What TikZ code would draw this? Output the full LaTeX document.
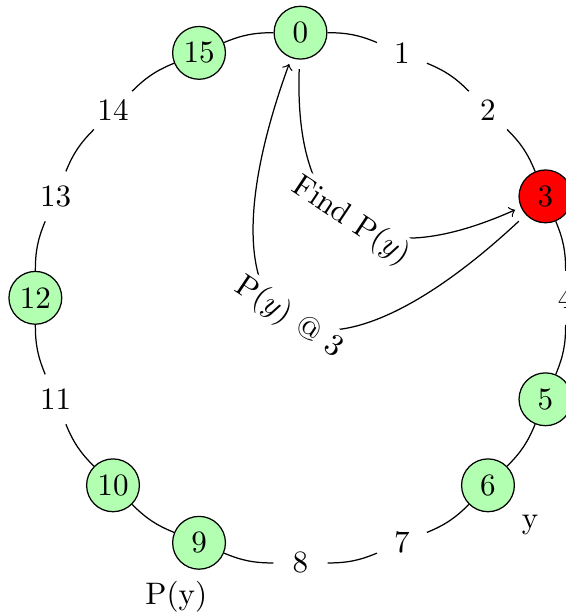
\documentclass[tikz,border=0pt]{standalone}
\usetikzlibrary{calc}
\begin{document}
\begin{tikzpicture}[
  ring/.style={circle, minimum size=17pt, inner sep=1pt},
  peer/.style={ring, draw, fill=green!30},
  hit/.style={ring, draw, fill=red},
  arcedge/.style={bend left=11.25},
  msg/.style={->, shorten <=3pt, shorten >=2pt},
  tag/.style={sloped, fill=white, inner sep=1pt}
]
\useasboundingbox (-3.40,-3.60) rectangle (3.0,3.37);
\foreach \k/\s in {0/peer,1/ring,2/ring,3/hit,4/ring,5/peer,6/peer,7/ring,8/ring,9/peer,10/peer,11/ring,12/peer,13/ring,14/ring,15/peer}
  \node[\s] (n\k) at ({90-22.5*\k}:3) {\k};
\foreach \k/\j in {0/1,1/2,2/3,3/4,4/5,5/6,6/7,7/8,8/9,9/10,10/11,11/12,12/13,13/14,14/15,15/0}
  \draw (n\k) to[arcedge] (n\j);
\node (ly) at ($(n6)+(0.477,-0.449)$) {y};
\node (lp) at ($(n9)+(-0.258,-0.609)$) {P(y)};
\draw[msg] (n0) to[out=-92, in=204, looseness=1.6] node[tag]{Find P($y$)} (n3);
\draw[msg] (n3) to[out=-137, in=-110, looseness=2.7] node[tag]{P($y$) @ 3} (n0);
\end{tikzpicture}
\end{document}
